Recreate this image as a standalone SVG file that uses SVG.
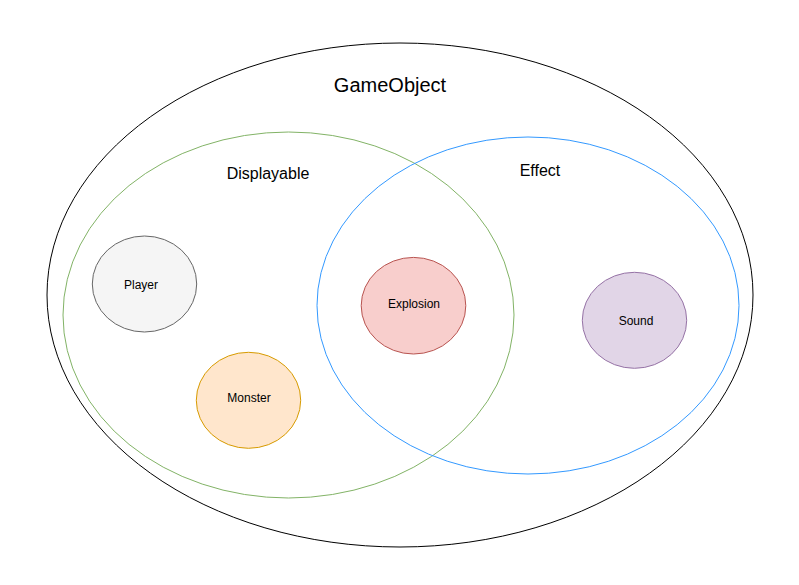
<svg xmlns="http://www.w3.org/2000/svg" width="799" height="585" viewBox="0 0 799 585">
<style>
text{font-family:"Liberation Sans",Arial,sans-serif;fill:#000;text-anchor:middle}
.big{font-size:20px}.mid{font-size:16px}.sm{font-size:12px}
ellipse{stroke-width:1}
</style>
<rect width="799" height="585" fill="#fff"/>
<g id="gameobject">
<ellipse cx="400" cy="295" rx="353" ry="252" fill="none" stroke="#000"/>
<text class="big" x="390" y="92">GameObject</text>
</g>
<g id="displayable">
<ellipse cx="288.5" cy="315" rx="225.5" ry="183" fill="none" stroke="#82b366"/>
<text class="mid" x="268" y="179">Displayable</text>
</g>
<g id="effect">
<ellipse cx="528" cy="305.5" rx="211" ry="168.5" fill="none" stroke="#3399ff"/>
<text class="mid" x="540" y="176">Effect</text>
</g>
<g id="player">
<ellipse cx="144.5" cy="284" rx="52.2" ry="48" fill="#f5f5f5" stroke="#666666"/>
<text class="sm" x="141" y="288.5">Player</text>
</g>
<g id="monster">
<ellipse cx="248.5" cy="400.3" rx="52.2" ry="48" fill="#ffe6cc" stroke="#d79b00"/>
<text class="sm" x="249" y="402">Monster</text>
</g>
<g id="explosion">
<ellipse cx="413.5" cy="305.7" rx="52.3" ry="48.3" fill="#f8cecc" stroke="#b85450"/>
<text class="sm" x="414" y="308">Explosion</text>
</g>
<g id="sound">
<ellipse cx="634.5" cy="320.3" rx="52.2" ry="48" fill="#e1d5e7" stroke="#9673a6"/>
<text class="sm" x="636" y="325">Sound</text>
</g>
<g id="connectors"/>
</svg>
